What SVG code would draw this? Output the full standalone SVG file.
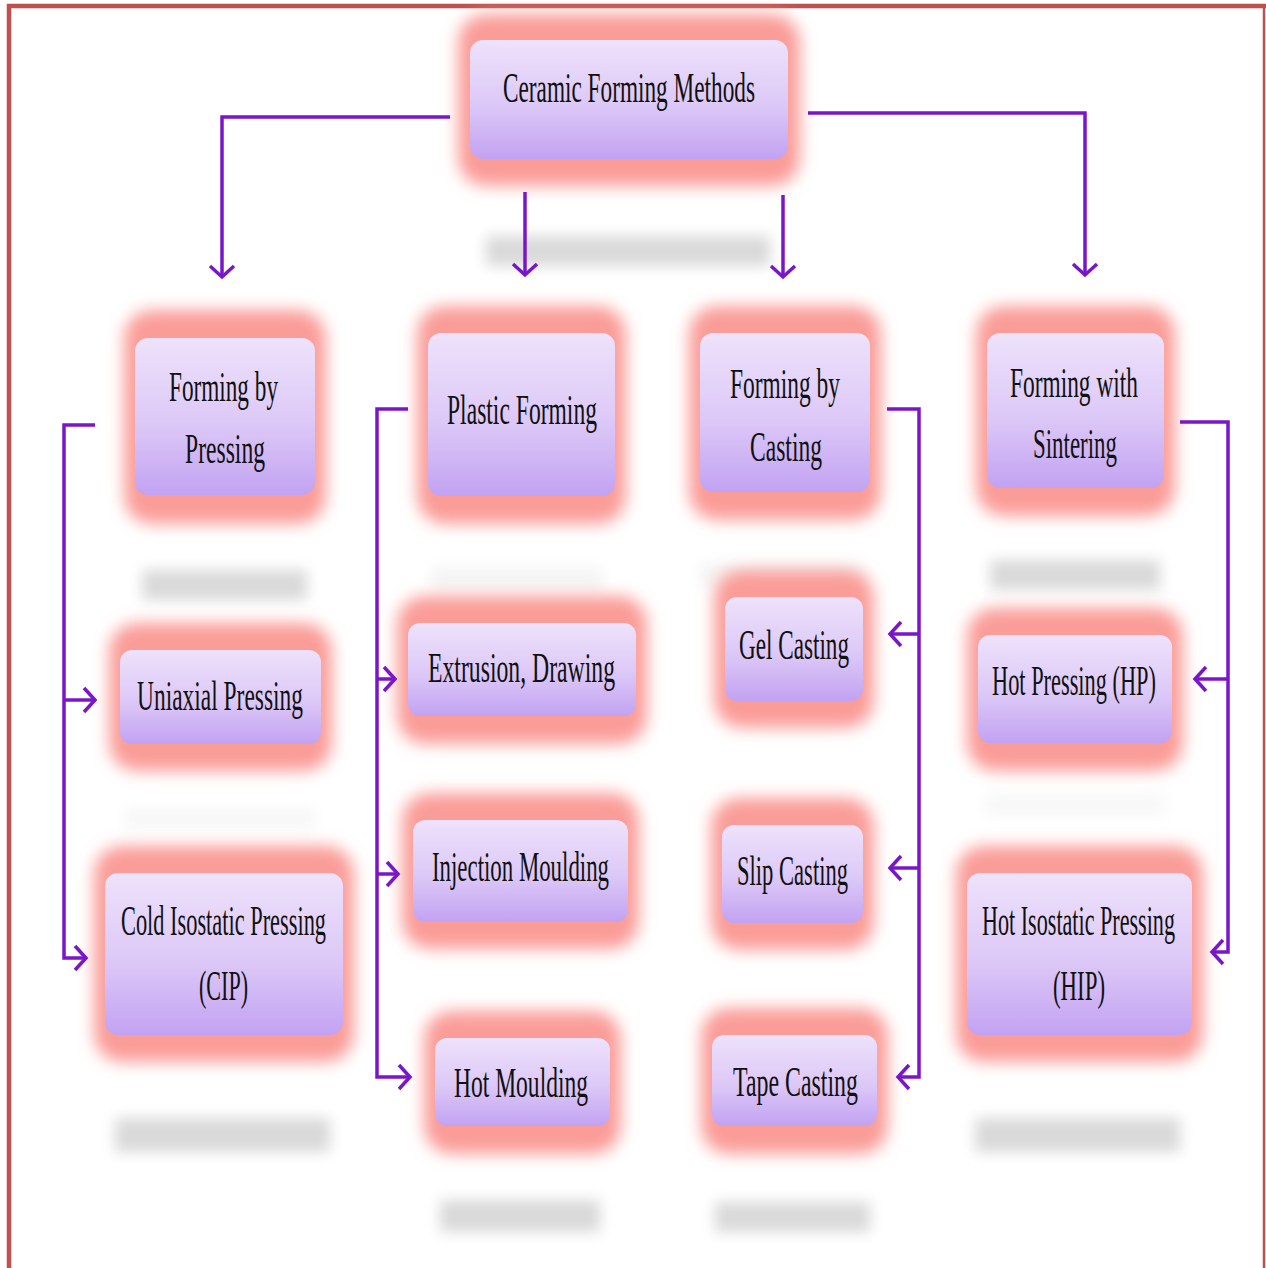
<svg xmlns="http://www.w3.org/2000/svg" width="1266" height="1268" viewBox="0 0 1266 1268">
  <defs>
    <style>
      .box { fill: url(#boxFill); }
      .glow { fill: #FA9C98; filter: url(#soft); }
      .refl { fill: #D9D9D9; filter: url(#haze); }
      .lbl { font-family: "Liberation Serif", "Times New Roman", serif; font-size: 42px; fill: #111111; }
      .conn { fill: none; stroke: #7A16C9; stroke-width: 3.5; }
      .arrow { marker-end: url(#chev); }
    </style>
    <linearGradient id="boxFill" x1="0" y1="0" x2="0" y2="1">
      <stop offset="0" stop-color="#EEE2FB"/>
      <stop offset="0.55" stop-color="#DCC8F7"/>
      <stop offset="1" stop-color="#C2A2F2"/>
    </linearGradient>
    <filter id="soft" x="-30%" y="-40%" width="160%" height="180%">
      <feGaussianBlur stdDeviation="8"/>
    </filter>
    <filter id="haze" x="-30%" y="-100%" width="160%" height="300%">
      <feGaussianBlur stdDeviation="7"/>
    </filter>
    <marker id="chev" markerUnits="userSpaceOnUse" viewBox="-16 -16 20 32" refX="0" refY="0" markerWidth="20" markerHeight="32" orient="auto" overflow="visible">
      <path d="M-11,-12 L0,0 L-11,12" fill="none" stroke="#7A16C9" stroke-width="3.5" stroke-linejoin="miter"/>
    </marker>
  </defs>

  <rect width="1266" height="1268" fill="#FFFFFF"/>

  <!-- frame -->
  <g id="frame" fill="none" stroke="#C0504D">
    <path d="M9,1268 V6 H1266" stroke-width="4.5"/>
    <path d="M1264,6 V1268" stroke-width="2.5"/>
  </g>

  <!-- faint reflections under the boxes -->
  <g id="reflections">
    <rect class="refl" x="486" y="236" width="284" height="30"/>
    <rect class="refl" x="142" y="570" width="165" height="30"/>
    <rect class="refl" x="432" y="568" width="170" height="22" opacity="0.3"/>
    <rect class="refl" x="700" y="564" width="165" height="22" opacity="0.3"/>
    <rect class="refl" x="990" y="560" width="170" height="30"/>
    <rect class="refl" x="125" y="808" width="190" height="22" opacity="0.2"/>
    <rect class="refl" x="985" y="794" width="180" height="22" opacity="0.2"/>
    <rect class="refl" x="115" y="1118" width="215" height="34"/>
    <rect class="refl" x="975" y="1118" width="205" height="34"/>
    <rect class="refl" x="440" y="1200" width="160" height="32"/>
    <rect class="refl" x="715" y="1202" width="155" height="30"/>
  </g>

  <g id="n-ceramic">
    <rect class="glow" x="458" y="14" width="342" height="172" rx="28"/>
    <rect class="box" x="470" y="40" width="318" height="119" rx="13"/>
    <text class="lbl" x="503" y="102" textLength="252" lengthAdjust="spacingAndGlyphs">Ceramic Forming Methods</text>
  </g>

  <g id="n-pressing">
    <rect class="glow" x="124" y="310" width="202" height="214" rx="28"/>
    <rect class="box" x="135" y="338" width="180" height="157" rx="13"/>
    <text class="lbl" x="169" y="401" textLength="109" lengthAdjust="spacingAndGlyphs">Forming by</text>
    <text class="lbl" x="185" y="463" textLength="80" lengthAdjust="spacingAndGlyphs">Pressing</text>
  </g>

  <g id="n-plastic">
    <rect class="glow" x="417" y="306" width="209" height="218" rx="28"/>
    <rect class="box" x="428" y="333" width="187" height="163" rx="13"/>
    <text class="lbl" x="447" y="424" textLength="150" lengthAdjust="spacingAndGlyphs">Plastic Forming</text>
  </g>

  <g id="n-casting">
    <rect class="glow" x="689" y="306" width="192" height="214" rx="28"/>
    <rect class="box" x="700" y="333" width="170" height="159" rx="13"/>
    <text class="lbl" x="730" y="398" textLength="110" lengthAdjust="spacingAndGlyphs">Forming by</text>
    <text class="lbl" x="750" y="461" textLength="72" lengthAdjust="spacingAndGlyphs">Casting</text>
  </g>

  <g id="n-sintering">
    <rect class="glow" x="976" y="306" width="199" height="210" rx="28"/>
    <rect class="box" x="987" y="333" width="177" height="155" rx="13"/>
    <text class="lbl" x="1010" y="397" textLength="128" lengthAdjust="spacingAndGlyphs">Forming with</text>
    <text class="lbl" x="1033" y="458" textLength="84" lengthAdjust="spacingAndGlyphs">Sintering</text>
  </g>

  <g id="n-uniaxial">
    <rect class="glow" x="109" y="623" width="223" height="148" rx="28"/>
    <rect class="box" x="120" y="650" width="201" height="94" rx="12"/>
    <text class="lbl" x="137" y="710" textLength="166" lengthAdjust="spacingAndGlyphs">Uniaxial Pressing</text>
  </g>

  <g id="n-extrusion">
    <rect class="glow" x="397" y="596" width="250" height="148" rx="28"/>
    <rect class="box" x="408" y="623" width="228" height="93" rx="12"/>
    <text class="lbl" x="428" y="682" textLength="187" lengthAdjust="spacingAndGlyphs">Extrusion, Drawing</text>
  </g>

  <g id="n-gel">
    <rect class="glow" x="714" y="570" width="160" height="158" rx="28"/>
    <rect class="box" x="725" y="597" width="138" height="104" rx="12"/>
    <text class="lbl" x="739" y="659" textLength="110" lengthAdjust="spacingAndGlyphs">Gel Casting</text>
  </g>

  <g id="n-hp">
    <rect class="glow" x="967" y="608" width="216" height="163" rx="28"/>
    <rect class="box" x="978" y="635" width="194" height="108" rx="12"/>
    <text class="lbl" x="992" y="695" textLength="164" lengthAdjust="spacingAndGlyphs">Hot Pressing (HP)</text>
  </g>

  <g id="n-cip">
    <rect class="glow" x="94" y="846" width="260" height="216" rx="28"/>
    <rect class="box" x="105" y="873" width="238" height="162" rx="13"/>
    <text class="lbl" x="121" y="935" textLength="205" lengthAdjust="spacingAndGlyphs">Cold Isostatic Pressing</text>
    <text class="lbl" x="199" y="1000" textLength="49" lengthAdjust="spacingAndGlyphs">(CIP)</text>
  </g>

  <g id="n-injection">
    <rect class="glow" x="402" y="793" width="237" height="156" rx="28"/>
    <rect class="box" x="413" y="820" width="215" height="102" rx="12"/>
    <text class="lbl" x="432" y="881" textLength="177" lengthAdjust="spacingAndGlyphs">Injection Moulding</text>
  </g>

  <g id="n-slip">
    <rect class="glow" x="711" y="798" width="163" height="152" rx="28"/>
    <rect class="box" x="722" y="825" width="141" height="98" rx="12"/>
    <text class="lbl" x="737" y="885" textLength="111" lengthAdjust="spacingAndGlyphs">Slip Casting</text>
  </g>

  <g id="n-hip">
    <rect class="glow" x="956" y="846" width="247" height="216" rx="28"/>
    <rect class="box" x="967" y="873" width="225" height="162" rx="13"/>
    <text class="lbl" x="982" y="935" textLength="193" lengthAdjust="spacingAndGlyphs">Hot Isostatic Pressing</text>
    <text class="lbl" x="1053" y="1000" textLength="52" lengthAdjust="spacingAndGlyphs">(HIP)</text>
  </g>

  <g id="n-hotmoulding">
    <rect class="glow" x="424" y="1011" width="197" height="143" rx="28"/>
    <rect class="box" x="435" y="1038" width="175" height="88" rx="12"/>
    <text class="lbl" x="454" y="1097" textLength="134" lengthAdjust="spacingAndGlyphs">Hot Moulding</text>
  </g>

  <g id="n-tape">
    <rect class="glow" x="701" y="1008" width="187" height="146" rx="28"/>
    <rect class="box" x="712" y="1035" width="165" height="91" rx="12"/>
    <text class="lbl" x="733" y="1096" textLength="125" lengthAdjust="spacingAndGlyphs">Tape Casting</text>
  </g>

  <!-- connectors -->
  <g id="connectors" class="conn">
    <path class="arrow" d="M450,117 H222 V277"/>
    <path class="arrow" d="M808,113 H1085 V275"/>
    <path class="arrow" d="M525,192 V275"/>
    <path class="arrow" d="M783,195 V277"/>

    <path class="arrow" d="M95,425 H64 V958 H86"/>
    <path class="arrow" d="M64,700 H95"/>

    <path class="arrow" d="M408,409 H377 V1077 H410"/>
    <path class="arrow" d="M377,679 H395"/>
    <path class="arrow" d="M377,874 H398"/>

    <path class="arrow" d="M887,409 H919 V1077 H898"/>
    <path class="arrow" d="M919,634 H890"/>
    <path class="arrow" d="M919,868 H890"/>

    <path class="arrow" d="M1180,422 H1228 V952 H1212"/>
    <path class="arrow" d="M1228,679 H1195"/>
  </g>
</svg>
